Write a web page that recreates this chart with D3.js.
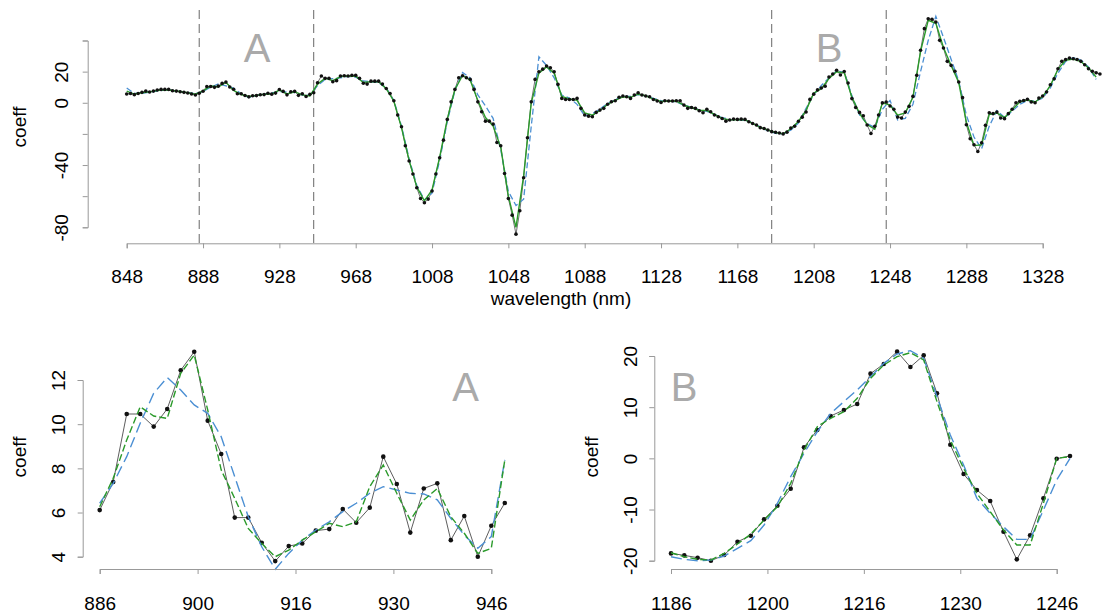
<!DOCTYPE html>
<html lang="en">
  <head>
    <meta charset="UTF-8">
    <script src="https://cdn.jsdelivr.net/npm/d3@7"></script>
    <style>
      html, body {
        margin: 0;
        padding: 0;
        background: #fff;
      }
      #chart {
        display: block;
        font-family: "Liberation Sans", Arial, sans-serif;
      }
    </style>
  </head>
  <body>
    <svg id="chart" width="1108" height="613"></svg>

    <script>
      //
      // Spectrum sampled every 2 nm starting at 848 nm (256 channels).
      //
      let wlStart = 848;
      let wlStep = 2;

      let rawTop = [
        5.6, 6.0, 5.2, 6.0, 6.7, 7.5, 6.9, 7.5, 8.2, 8.6, 8.6, 8.6, 7.7, 7.5, 7.1, 6.7, 6.3, 5.6, 4.95,
        6.11, 7.38, 10.46, 10.46, 9.89, 10.69, 12.44, 13.28, 10.16, 8.65, 5.77, 5.77, 4.63, 3.80, 4.48, 4.60,
        5.18, 5.25, 6.16, 5.54, 6.22, 8.53, 7.29, 5.09, 7.09, 7.32, 4.75, 5.84, 4.00, 5.40, 6.43,
        12.9, 17.2, 15.7, 15.7, 13.5, 14.2, 17.2, 17.4, 17.2, 17.6, 17.6, 15.7,
        12.5, 12.0, 13.9, 13.9, 13.9, 12.0, 9.2, 6.0, 1.3, -7.9, -15.4, -27.6, -37.4, -45.8, -54.6, -61.5,
        -64.2, -61.9, -56.7, -45.8, -35.3, -24.0, -10.7, 0.6, 8.6, 16.1, 17.4, 16.1, 15.0, 8.6, 0.6, -5.8,
        -11.8, -11.8, -13.7, -25.5, -27.6, -45.4, -61.5, -72.2, -84.4, -69.4, -48.2, -22.5, 0.6, 15.0, 19.9,
        21.6, 23.6, 22.5, 19.9, 11.8, 2.8, 2.1, 2.1, 2.1, 2.8, -3.6, -7.9, -8.6, -9.0, -6.2, -4.7, -3.6, -1.0,
        0.7, 1.3, 3.5, 4.3, 3.9, 2.8, 5.0, 6.4, 5.0, 4.3, 3.9, 2.1, 1.1, 0.2, 1.3, 1.1, 1.1, 1.3, 1.3, -1.5,
        -3.6, -3.0, -3.6, -5.1, -6.4, -4.2, -5.8, -7.9, -9.0, -10.1, -11.8, -11.1, -10.5, -10.7, -10.5, -10.7,
        -12.2, -13.3, -14.3, -16.0, -16.5, -17.5,
        -18.57, -18.96, -19.41, -20.0, -18.89, -16.29, -15.11, -11.92, -9.25, -5.93, 2.15, 5.54, 8.27, 9.45,
        10.62, 16.55, 18.44, 20.85, 17.85, 20.13, 12.70, 2.67, -3.06, -6.19, -8.34, -14.33, -19.74, -15.05,
        -7.82, -0.07, 0.46,
        -2.1, -4.2, -9.2, -9.8, -6.0, -2.3, 4.1, 17.6, 33.7, 47.6, 54.0, 53.6, 51.9, 40.1, 35.2, 26.6, 24.0,
        20.2, 13.3, 3.3, -14.1, -23.1, -27.0, -31.3, -25.7, -14.5, -6.4, -7.0, -6.0, -9.8, -10.2, -7.0, -4.2,
        0.0, 0.9, 1.5, 2.2, 0.5, 0.0, 3.0, 4.3, 6.9, 11.6, 15.4, 21.9, 26.6, 27.8, 28.7, 28.3, 27.8, 26.6,
        24.4, 21.9, 20.2, 19.3, 18.5
      ];

      // smoothed fits, read at every second channel (4 nm)
      let greenTop = [
        7.5, 5.6, 6.4, 7.0, 7.9, 8.4, 7.9, 7.2, 6.4, 5.5, 7.6, 10.8, 10.3, 13.1, 7.9, 5.3, 4.0, 4.75, 5.5, 5.6,
        8.15, 5.7, 7.1, 5.1, 4.4, 12.0, 15.8, 14.2, 16.8, 17.2, 17.0, 13.0, 13.6, 13.5, 9.0, 1.0, -16.0, -37.0,
        -54.0, -63.0, -56.0, -35.0, -10.5, 8.5, 17.5, 14.5, 1.5, -9.5, -15.0, -28.5, -60.0, -80.0, -47.0, 0.0,
        19.0, 23.0, 19.0, 4.0, 2.5, 1.5, -6.5, -8.0, -5.0, -1.0, 1.5, 3.8, 3.5, 5.5, 4.5, 2.4, 0.8, 1.1, 1.0,
        -1.5, -3.2, -4.8, -5.0, -7.5, -10.0, -11.0, -10.8, -11.0, -13.2, -15.8, -17.5, -19.2, -19.9, -16.7,
        -12.0, -4.9, 6.2, 9.1, 15.6, 19.9, 19.2, 3.6, -6.8, -14.0, -16.9, 0.0, -1.5, -8.0, -6.5, 3.5, 33.0,
        53.0, 51.0, 35.5, 24.0, 13.0, -12.5, -27.5, -27.0, -7.5, -6.5, -9.5, -4.5, 0.5, 1.8, 0.5, 4.0, 11.0,
        21.5, 27.3, 28.0, 26.5, 22.5, 16.5
      ];

      let blueTop = [
        9.5, 6.0, 6.2, 6.8, 7.5, 8.2, 8.0, 7.3, 6.6, 5.8, 7.3, 10.0, 12.1, 10.9, 9.4, 5.8, 3.4, 4.75, 5.6, 6.4,
        7.2, 6.9, 6.6, 5.0, 4.9, 11.0, 15.0, 15.5, 16.0, 17.0, 16.5, 14.0, 13.5, 13.0, 9.5, 1.5, -15.0, -36.0,
        -53.0, -62.5, -58.0, -37.0, -12.0, 8.0, 19.5, 16.0, 5.0, -2.0, -10.0, -30.0, -57.0, -66.0, -62.0, -15.0,
        29.5, 24.0, 16.0, 5.0, 3.0, -1.0, -8.5, -7.0, -4.0, -0.5, 2.0, 4.0, 4.2, 5.2, 4.5, 2.8, 1.3, 1.0, 0.5,
        -1.5, -3.0, -4.5, -5.5, -7.5, -9.5, -10.7, -11.0, -11.3, -13.0, -15.5, -18.0, -19.7, -19.9, -17.6,
        -13.0, -3.6, 5.2, 11.1, 16.0, 20.4, 19.5, 4.6, -7.8, -13.4, -15.8, -4.2, 1.5, -11.0, -10.0, -1.0, 20.0,
        40.0, 55.5, 42.0, 28.0, 14.0, -8.0, -22.0, -29.5, -15.0, -5.0, -9.5, -5.5, -1.0, 1.5, 1.0, 3.0, 9.5,
        19.0, 26.5, 29.0, 27.5, 23.0, 15.0
      ];

      // zoomed fits for the two marked regions (31 channels each)
      let greenA = [6.26, 7.55, 9.28, 10.79, 10.37, 10.26, 12.30, 13.13, 10.64, 7.92, 6.64, 5.28, 4.60, 4.00, 4.30,
        4.75, 5.13, 5.51, 5.36, 5.58, 7.17, 8.15, 6.87, 5.66, 6.57, 7.09, 5.81, 5.06, 4.15, 4.38, 8.38];
      let blueA = [6.42, 7.32, 8.53, 10.04, 11.40, 12.11, 11.55, 10.87, 10.49, 9.43, 7.62, 5.81, 4.45, 3.43, 4.15,
        4.75, 5.21, 5.58, 6.04, 6.42, 6.87, 7.17, 7.02, 6.87, 6.84, 6.57, 5.74, 4.98, 4.38, 4.91, 8.38];
      let greenB = [-18.44, -19.22, -19.74, -19.87, -18.57, -16.74, -14.79, -12.05, -9.45, -4.89, 1.63, 6.19, 7.82,
        9.12, 11.73, 15.64, 18.24, 19.87, 20.65, 19.22, 11.08, 3.58, -1.95, -6.84, -10.42, -14.0, -16.94, -16.94,
        -8.79, 0.0, 0.33];
      let blueB = [-19.22, -19.74, -20.0, -19.87, -19.09, -17.59, -16.09, -13.03, -8.79, -3.58, 0.98, 5.21, 8.79,
        11.08, 13.36, 15.96, 18.57, 20.39, 21.04, 19.54, 12.05, 4.56, -1.30, -7.82, -10.75, -13.36, -15.83, -15.83,
        -10.10, -4.23, 0.0];

      let regions = [
        { name: 'A', from: 886, to: 946 },
        { name: 'B', from: 1186, to: 1246 }
      ];

      let topXTicks = [848, 888, 928, 968, 1008, 1048, 1088, 1128, 1168, 1208, 1248, 1288, 1328];
      let topYTicks = [40, 20, 0, -20, -40, -60, -80];
      let topYLabels = [20, 0, -40, -80];
      let tickLabelsA = ['886', '900', '916', '930', '946'];
      let tickLabelsB = ['1186', '1200', '1216', '1230', '1246'];
      let yTicksA = [4, 6, 8, 10, 12];
      let yTicksB = [-20, -10, 0, 10, 20];

      let axisColor = '#999';
      let green = '#2a9a2a';
      let blue = '#4b8fd3';
      let fontSize = 19;

      let svg = d3.select('#chart');

      let wl = i => wlStart + i * wlStep;
      let rawPts = rawTop.map((v, i) => ({ x: wl(i), y: v }));
      let greenPts = greenTop.map((v, k) => ({ x: wl(2 * k), y: v }));
      let bluePts = blueTop.map((v, k) => ({ x: wl(2 * k), y: v }));

      //
      // Shared axis drawing (R-like: gray lines, rotated y labels).
      //
      function styleAxis(g) {
        g.selectAll('path, line').attr('stroke', axisColor);
        g.selectAll('text')
          .attr('fill', '#000')
          .style('font-size', fontSize + 'px')
          .style('font-family', '"Liberation Sans", Arial, sans-serif');
      }

      function drawXAxis(x, y0, ticks, labels, lblY) {
        let g = svg.append('g')
          .attr('transform', `translate(0,${y0})`)
          .call(d3.axisBottom(x).tickValues(ticks).tickSizeOuter(0).tickSize(5)
            .tickFormat((d, i) => labels[i]));
        styleAxis(g);
        g.selectAll('text').attr('y', lblY).attr('dy', 0);
      }

      function drawYAxis(y, x0, ticks, labelled, dx, titleX, titleY) {
        let g = svg.append('g')
          .attr('transform', `translate(${x0},0)`)
          .call(d3.axisLeft(y).tickValues(ticks).tickSizeOuter(0).tickSize(5)
            .tickFormat(d => labelled.includes(d) ? d : ''));
        styleAxis(g);
        g.selectAll('text')
          .attr('x', 0)
          .attr('dy', 0)
          .attr('text-anchor', 'middle')
          .attr('transform', `translate(${-dx},0) rotate(-90)`);

        svg.append('text')
          .attr('transform', `translate(${titleX},${titleY}) rotate(-90)`)
          .attr('text-anchor', 'middle')
          .style('font-size', fontSize + 'px')
          .text('coeff');
      }

      function bigLetter(txt, x, y) {
        svg.append('text')
          .attr('x', x)
          .attr('y', y)
          .attr('text-anchor', 'middle')
          .attr('fill', '#aaa')
          .style('font-size', '40px')
          .text(txt);
      }

      //
      // Top panel: full spectrum.
      //
      let xTop = d3.scaleLinear().domain([848, 1328]).range([126.7, 1042.7]);
      let yTop = d3.scaleLinear().domain([-80, 40]).range([227.3, 40.5]);

      regions.forEach(r => {
        [r.from, r.to].forEach(w => {
          svg.append('line')
            .attr('x1', xTop(w)).attr('x2', xTop(w))
            .attr('y1', 10).attr('y2', 243)
            .attr('stroke', '#666')
            .attr('stroke-width', 1)
            .attr('stroke-dasharray', '9,5');
        });
      });

      bigLetter('A', 257, 62);
      bigLetter('B', 829, 62);

      let lineTop = d3.line().x(d => xTop(d.x)).y(d => yTop(d.y));

      svg.append('path')
        .datum(rawPts)
        .attr('d', lineTop)
        .attr('fill', 'none')
        .attr('stroke', '#333')
        .attr('stroke-width', 0.7);

      svg.append('path')
        .datum(bluePts)
        .attr('d', lineTop)
        .attr('fill', 'none')
        .attr('stroke', blue)
        .attr('stroke-width', 1.3)
        .attr('stroke-dasharray', '6,3');

      svg.append('path')
        .datum(greenPts)
        .attr('d', lineTop)
        .attr('fill', 'none')
        .attr('stroke', green)
        .attr('stroke-width', 1.4);

      svg.append('g')
        .selectAll('circle')
        .data(rawPts)
        .enter()
        .append('circle')
        .attr('cx', d => xTop(d.x))
        .attr('cy', d => yTop(d.y))
        .attr('r', 1.8)
        .attr('fill', '#111');

      drawXAxis(xTop, 243.3, topXTicks, topXTicks.map(String), 40);
      drawYAxis(yTop, 87.7, topYTicks, topYLabels, 19.7, 26, 127);

      svg.append('text')
        .attr('x', 561)
        .attr('y', 305)
        .attr('text-anchor', 'middle')
        .style('font-size', fontSize + 'px')
        .text('wavelength (nm)');

      //
      // Bottom panels: zoom on the marked regions.
      //
      function drawZoom(region, greenVals, blueVals, xRange, yDomain, yRange, yTicks, xLabels, opts) {
        let i0 = (region.from - wlStart) / wlStep;
        let raw = rawTop.slice(i0, i0 + greenVals.length);
        let n = raw.length;

        // x runs on channel index; labelled ticks are spread between first and 30th channel
        let x = d3.scaleLinear().domain([0, n - 2]).range(xRange);
        let y = d3.scaleLinear().domain(yDomain).range(yRange);
        let tickPos = xLabels.map((d, k) => k * (n - 2) / (xLabels.length - 1));

        let line = d3.line().x((d, i) => x(i)).y(d => y(d));

        svg.append('path')
          .datum(raw)
          .attr('d', line)
          .attr('fill', 'none')
          .attr('stroke', '#333')
          .attr('stroke-width', 0.8);

        svg.append('g')
          .selectAll('circle')
          .data(raw)
          .enter()
          .append('circle')
          .attr('cx', (d, i) => x(i))
          .attr('cy', d => y(d))
          .attr('r', 2.3)
          .attr('fill', '#111');

        svg.append('path')
          .datum(blueVals)
          .attr('d', line)
          .attr('fill', 'none')
          .attr('stroke', blue)
          .attr('stroke-width', 1.4)
          .attr('stroke-dasharray', '11,5');

        svg.append('path')
          .datum(greenVals)
          .attr('d', line)
          .attr('fill', 'none')
          .attr('stroke', green)
          .attr('stroke-width', 1.4)
          .attr('stroke-dasharray', '7,3');

        drawXAxis(x, 569, tickPos, xLabels, 41);
        drawYAxis(y, opts.axisX, yTicks, yTicks, opts.dx, opts.titleX, 457);
        bigLetter(region.name, opts.letterX, 401);
      }

      drawZoom(regions[0], greenA, blueA, [99.7, 491.3], [4, 12], [556.7, 380], yTicksA, tickLabelsA,
        { axisX: 82.7, dx: 17.7, titleX: 26, letterX: 465.5 });
      drawZoom(regions[1], greenB, blueB, [671, 1056.7], [-20, 20], [560.7, 356], yTicksB, tickLabelsB,
        { axisX: 654.3, dx: 17.6, titleX: 597.7, letterX: 684 });
    </script>
  </body>
</html>
